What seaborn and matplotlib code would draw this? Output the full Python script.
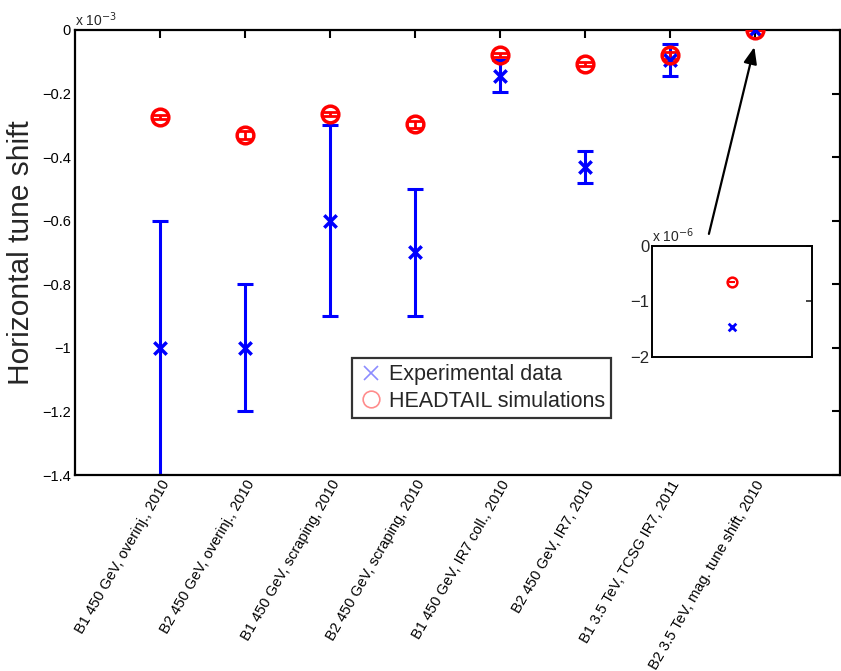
import numpy as np
import pandas as pd
import matplotlib
matplotlib.use("Agg")
import matplotlib.pyplot as plt
import seaborn as sns
from matplotlib.lines import Line2D
from matplotlib.ticker import FuncFormatter

categories = [
    "B1 450 GeV, overinj., 2010",
    "B2 450 GeV, overinj., 2010",
    "B1 450 GeV, scraping, 2010",
    "B2 450 GeV, scraping, 2010",
    "B1 450 GeV, IR7 coll., 2010",
    "B2 450 GeV, IR7, 2010",
    "B1 3.5 TeV, TCSG IR7, 2011",
    "B2 3.5 TeV, mag. tune shift, 2010",
]
exp_values = [-1.0e-3, -1.0e-3, -0.6e-3, -0.7e-3, -0.145e-3, -0.43e-3, -0.095e-3, -1.46e-6]
exp_err = [0.4e-3, 0.2e-3, 0.3e-3, 0.2e-3, 0.05e-3, 0.05e-3, 0.05e-3, 0.0]
sim_values = [-0.275e-3, -0.33e-3, -0.265e-3, -0.297e-3, -0.079e-3, -0.108e-3, -0.08e-3, -0.65e-6]
sim_err = [0.006e-3, 0.012e-3, 0.006e-3, 0.01e-3, 0.006e-3, 0.006e-3, 0.01e-3, 0.0]

inset_exp = [-1.46e-6]
inset_sim = [-0.65e-6]

sns.set_style("white")
plt.rcParams['font.family'] = ['Liberation Sans', 'DejaVu Sans']


def fmt_main(v, _):
    s = f"{round(v * 1e3, 1):g}"
    if s in ("0", "-0"):
        return "0"
    return s.replace("-", "\u2212")


def fmt_inset(v, _):
    s = f"{round(v * 1e6):d}"
    return s.replace("-", "\u2212")


fig = plt.figure(figsize=(8.41, 6.71), dpi=100)
ax = fig.add_axes([0.0892, 0.2921, 0.9096, 0.6632])

x = np.arange(1, len(categories) + 1)
df = pd.DataFrame({"x": x, "exp": exp_values, "sim": sim_values})

ax.errorbar(x, exp_values, yerr=exp_err, fmt='none', ecolor='#0000ff', elinewidth=2.2,
            capsize=6, capthick=2.2, zorder=2)
ax.errorbar(x, sim_values, yerr=sim_err, fmt='none', ecolor='#ff0000', elinewidth=2,
            capsize=5, capthick=2, zorder=3)
sns.scatterplot(data=df, x="x", y="exp", marker='x', color='#0000ff', s=80,
                linewidth=2.5, ax=ax, zorder=4, legend=False)
ax.plot(x, sim_values, linestyle='none', marker='o', markersize=12, markerfacecolor='none',
        markeredgecolor='#ff0000', markeredgewidth=2.5, zorder=5)

ax.set_xlim(0, 9)
ax.set_ylim(-1.4e-3, 0)
ax.set_xticks(x)
ax.set_xticklabels(categories, rotation=60, ha='right', rotation_mode='anchor', fontsize=10)
ax.set_yticks(np.arange(-1.4e-3, 0.0001e-3, 0.2e-3))
ax.yaxis.set_major_formatter(FuncFormatter(fmt_main))
ax.tick_params(axis='both', direction='in', length=6, width=1.5, top=True, right=True,
               labelsize=10.5, colors='black', pad=3)
ax.tick_params(axis='x', pad=2)
ax.set_xlabel("")
ax.set_ylabel("Horizontal tune shift", fontsize=21.5)
ax.yaxis.set_label_coords(-0.052, 0.5)
for s in ax.spines.values():
    s.set_linewidth(1.6)
    s.set_color('black')
ax.text(0.0, 1.003, r"x 10$^{-3}$", transform=ax.transAxes, fontsize=10, va='bottom', ha='left')

handles = [
    Line2D([], [], linestyle='none', marker='x', color='#0000ff', alpha=0.45, markersize=10, markeredgewidth=1.2),
    Line2D([], [], linestyle='none', marker='o', markerfacecolor='none', markeredgecolor='#ff0000',
           alpha=0.45, markersize=12, markeredgewidth=1.2),
]
leg = ax.legend(handles, ["Experimental data", "HEADTAIL simulations"], loc='lower left',
                bbox_to_anchor=(0.362, 0.128), fontsize=15.5, frameon=True, fancybox=False,
                handletextpad=0.2, borderpad=0.3, labelspacing=0.25, handlelength=1.2,
                borderaxespad=0)
leg.get_frame().set_edgecolor('black')
leg.get_frame().set_linewidth(1.6)

ax.annotate("", xy=(8.0, -0.045e-3), xytext=(7.45, -0.65e-3),
            arrowprops=dict(arrowstyle='-|>,head_length=1.0,head_width=0.4', color='black', lw=1.6),
            zorder=6)

# inset
axi = fig.add_axes([0.7753, 0.468, 0.1902, 0.1654])
dfi = pd.DataFrame({"x": [1], "exp": inset_exp, "sim": inset_sim})
sns.scatterplot(data=dfi, x="x", y="exp", marker='x', color='#0000ff', s=30, linewidth=2,
                ax=axi, legend=False)
axi.plot([1], inset_sim, linestyle='none', marker='o', markersize=7, markerfacecolor='none',
         markeredgecolor='#ff0000', markeredgewidth=1.8)
axi.plot([1], inset_sim, linestyle='none', marker='_', markersize=5, color='#ff0000', markeredgewidth=1.5)
axi.set_xlim(0, 2)
axi.set_ylim(-2e-6, 0)
axi.set_xticks([])
axi.set_yticks([-2e-6, -1e-6, 0])
axi.yaxis.set_major_formatter(FuncFormatter(fmt_inset))
axi.tick_params(axis='y', direction='in', length=4, width=1.2, right=True, labelsize=12, pad=2)
axi.set_xlabel("")
axi.set_ylabel("")
for s in axi.spines.values():
    s.set_linewidth(1.4)
    s.set_color('black')
axi.text(0.0, 1.005, r"x 10$^{-6}$", transform=axi.transAxes, fontsize=10, va='bottom', ha='left')

fig.savefig("out.png", dpi=100, facecolor='white')
